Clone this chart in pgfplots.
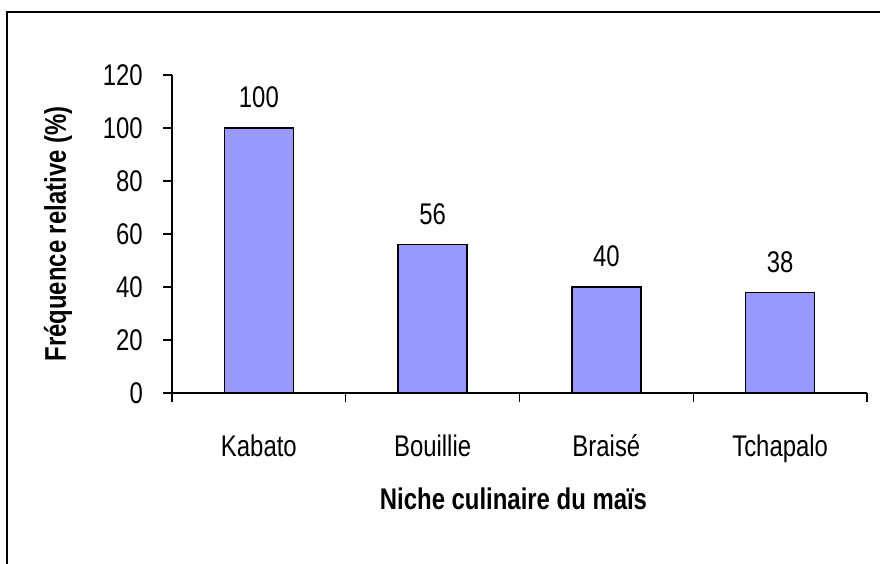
\documentclass[border=0pt]{standalone}
\usepackage{fontspec}
\setmainfont{Liberation Sans}[FakeStretch=0.8]
\usepackage{pgfplots}
\pgfplotsset{compat=1.18}
\definecolor{barblue}{HTML}{9999FF}
\begin{document}
\fontsize{30}{35}\selectfont
\begin{tikzpicture}
\path[use as bounding box] (0,0) rectangle (880bp,564bp);
\draw[line width=1.3bp] (7bp,-5bp) -- (7bp,552bp) -- (885bp,552bp);
\begin{axis}[
  at={(172bp,171bp)}, anchor=south west,
  scale only axis, width=695bp, height=318bp,
  xmin=-0.5, xmax=3.5, ymin=0, ymax=120,
  axis x line*=bottom, axis y line*=left,
  axis line style={line width=1.3bp, -},
  every tick/.style={black, line width=1.3bp},
  tick align=outside,
  xtick={-0.5,0.5,1.5,2.5,3.5},
  xticklabels={},
  extra x ticks={0,1,2,3},
  extra x tick labels={Kabato,Bouillie,Braisé,Tchapalo},
  extra x tick style={major tick length=0pt},
  ytick={0,20,...,120},
  major tick length=9bp,
  /pgf/number format/assume math mode=true,
  ticklabel style={font=\fontsize{30}{35}\selectfont},
  xticklabel style={anchor=base, yshift=-63bp, inner sep=0pt},
  yticklabel style={anchor=east, xshift=-20bp, inner sep=0pt},
  xlabel={\bfseries Niche culinaire du maïs},
  ylabel={\bfseries Fréquence relative (\%)},
  every axis x label/.style={at={(axis description cs:0.5,0)}, anchor=base, yshift=-116bp, xshift=-6bp, font=\fontsize{30}{35}\selectfont},
  every axis y label/.style={at={(axis description cs:0,0.5)}, anchor=center, rotate=90, yshift=114bp, font=\fontsize{30}{35}\selectfont},
  ybar, bar width=69bp,
  nodes near coords,
  nodes near coords style={anchor=base, yshift=20bp, inner sep=0pt, font=\fontsize{30}{35}\selectfont},
  clip=false,
]
\addplot[fill=barblue, draw=black, line width=1.3bp] coordinates {(0,100) (1,56) (2,40) (3,38)};
\end{axis}
\end{tikzpicture}
\end{document}
